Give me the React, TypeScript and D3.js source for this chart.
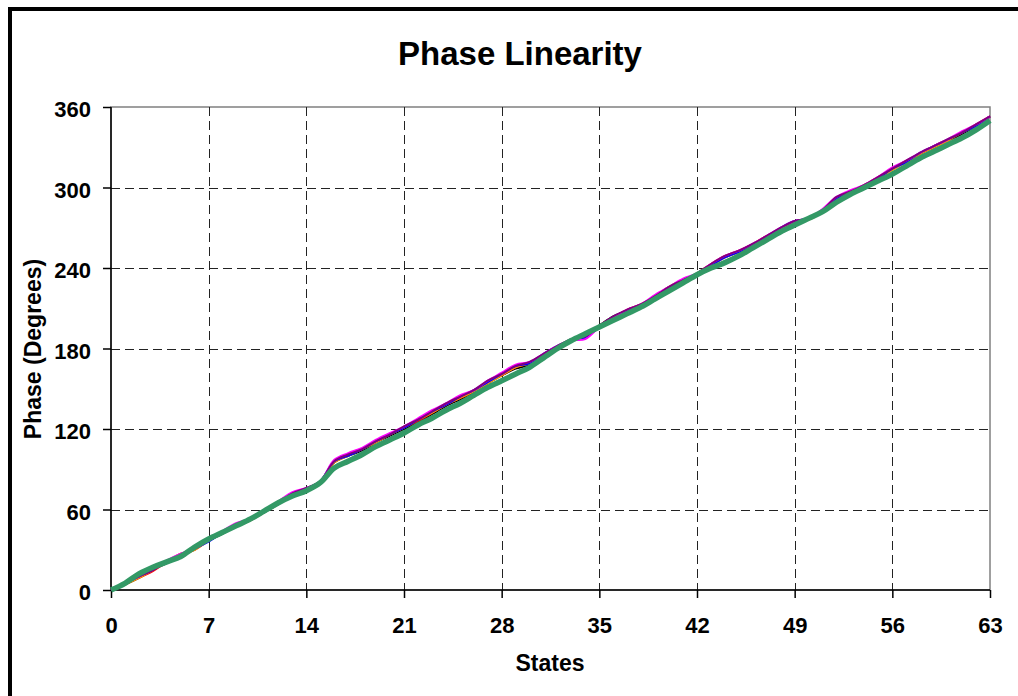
import React, { useEffect, useRef } from 'react';
import * as d3 from 'd3';

// phase readings (degrees) for each state 0..63
const states = d3.range(0, 64);
const blackSeries = [0,4,9,15,20,25,31,37,42,48,53,58,64,71,75,81,95,100,104,110,115,120,125,131,137,142,147,154,160,165,168,175,181,187,190,197,204,208,212,219,226,231,235,242,248,252,257,263,269,274,277,283,292,297,301,307,314,319,325,330,335,340,346,353];
const redSeries = [0,5,9,14,21,27,30,37,43,49,52,59,66,72,75,80,96,101,105,111,116,121,126,132,138,143,148,155,160,166,169,175,181,186,189,197,203,209,213,219,225,231,236,243,249,253,258,264,269,274,276,283,292,297,302,308,314,320,325,331,336,341,347,353];
const blueSeries = [0,5,10,15,21,26,31,36,43,49,53,58,65,71,75,81,96,100,105,111,116,121,127,133,138,144,149,155,161,167,169,176,182,186,188,196,203,208,212,218,225,230,235,242,248,252,258,263,270,275,277,282,292,296,301,307,314,319,326,331,336,341,346,353];
const magentaSeries = [0,5,10,16,22,27,31,37,44,50,53,59,66,73,76,81,97,102,106,112,117,122,128,134,139,145,149,156,162,168,170,176,182,186,187,196,203,209,213,220,226,232,236,243,249,253,258,264,270,275,277,284,293,298,302,308,315,320,326,331,336,342,347,353];
const orangeSeries = [0,4,9,15,21,26,30,37,43,48,52,58,65,72,75,80,95,100,105,110,116,121,127,132,138,143,148,154,160,166,169,175,181,186,189,196,203,208,212,219,226,231,236,242,248,252,258,263,269,274,276,282,292,297,301,307,313,319,325,330,335,341,346,353];
const purpleSeries = [0,5,10,15,21,26,31,37,43,49,53,59,65,72,76,81,96,101,105,111,116,122,127,133,139,144,149,156,161,167,170,176,182,187,189,197,204,209,213,219,226,231,236,243,249,253,258,264,270,275,277,283,293,297,302,308,314,320,326,331,336,341,347,353];
const greenSeries = [0,5,12,17,21,25,32,38,43,48,53,59,65,70,74,80,91,96,101,107,112,117,123,128,134,139,145,151,156,161,166,173,180,186,191,196,201,206,211,217,223,229,235,240,244,249,255,261,267,272,277,282,289,295,300,305,310,316,322,327,332,337,343,350];

const xTicks = [0, 7, 14, 21, 28, 35, 42, 49, 56, 63];
const yTicks = [0, 60, 120, 180, 240, 300, 360];

const thinSeries = [
  { values: blackSeries, color: '#000000' },
  { values: redSeries, color: '#FF0000' },
  { values: orangeSeries, color: '#FF9900' },
  { values: blueSeries, color: '#0000FF' },
  { values: magentaSeries, color: '#FF00FF' },
  { values: purpleSeries, color: '#800080' },
];

const W = 1018;
const H = 696;
const margin = { left: 111, right: 990, top: 107, bottom: 590 };
const FONT = 'Liberation Sans, Arial, sans-serif';

const App: React.FC = () => {
  const ref = useRef<SVGSVGElement | null>(null);

  useEffect(() => {
    if (!ref.current) return;
    const svg = d3.select(ref.current);
    svg.selectAll('*').remove();

    const x = d3.scaleLinear().domain([0, 63]).range([margin.left, margin.right]);
    const y = d3.scaleLinear().domain([0, 360]).range([margin.bottom, margin.top]);

    // outer frame
    svg.append('rect')
      .attr('x', 10).attr('y', 9)
      .attr('width', 1200).attr('height', 900)
      .attr('fill', 'white')
      .attr('stroke', 'black').attr('stroke-width', 4);

    // plot area border
    svg.append('rect')
      .attr('x', margin.left).attr('y', margin.top)
      .attr('width', margin.right - margin.left)
      .attr('height', margin.bottom - margin.top)
      .attr('fill', 'white')
      .attr('stroke', '#808080').attr('stroke-width', 1.5);

    // gridlines
    svg.append('g').selectAll('line')
      .data(yTicks.filter(d => d > 0 && d < 360))
      .enter().append('line')
      .attr('x1', margin.left).attr('x2', margin.right)
      .attr('y1', d => Math.round(y(d)) + 0.5).attr('y2', d => Math.round(y(d)) + 0.5)
      .attr('stroke', '#222').attr('stroke-dasharray', '9,5');

    svg.append('g').selectAll('line')
      .data(xTicks.filter(d => d > 0 && d < 63))
      .enter().append('line')
      .attr('x1', d => Math.round(x(d)) + 0.5).attr('x2', d => Math.round(x(d)) + 0.5)
      .attr('y1', margin.top).attr('y2', margin.bottom)
      .attr('stroke', '#222').attr('stroke-dasharray', '9,5');

    // axes
    const yAxis = svg.append('g')
      .attr('transform', `translate(${margin.left},0)`)
      .call(d3.axisLeft(y).tickValues(yTicks).tickSize(8).tickPadding(12));
    const xAxis = svg.append('g')
      .attr('transform', `translate(0,${margin.bottom})`)
      .call(d3.axisBottom(x).tickValues(xTicks).tickSize(8).tickPadding(19));

    [yAxis, xAxis].forEach(g => {
      g.select('.domain').attr('stroke', 'black').attr('stroke-width', 1.5);
      g.selectAll('.tick line').attr('stroke', 'black').attr('stroke-width', 1.5);
      g.selectAll('.tick text')
        .attr('fill', 'black')
        .style('font-family', FONT)
        .style('font-weight', 'bold')
        .style('font-size', '22px');
    });
    yAxis.selectAll('.tick text').attr('dy', '0.45em');
    yAxis.select('.domain').attr('d', `M0,${margin.bottom}V${margin.top}`);
    xAxis.select('.domain').attr('d', `M${margin.left},0H${margin.right}`);

    // series
    const line = d3.line<number>()
      .x((_, i) => x(states[i]))
      .y(d => y(d))
      .curve(d3.curveCatmullRom.alpha(0.5));

    thinSeries.forEach(s => {
      svg.append('path')
        .datum(s.values)
        .attr('d', line)
        .attr('fill', 'none')
        .attr('stroke', s.color)
        .attr('stroke-width', 2);
    });

    svg.append('path')
      .datum(greenSeries)
      .attr('d', line)
      .attr('fill', 'none')
      .attr('stroke', '#339966')
      .attr('stroke-width', 5.5);

    // titles
    svg.append('text')
      .attr('x', 520).attr('y', 65)
      .attr('text-anchor', 'middle')
      .style('font-family', FONT).style('font-weight', 'bold').style('font-size', '33px')
      .text('Phase Linearity');

    svg.append('text')
      .attr('x', 550).attr('y', 671)
      .attr('text-anchor', 'middle')
      .style('font-family', FONT).style('font-weight', 'bold').style('font-size', '23px')
      .text('States');

    svg.append('text')
      .attr('transform', `translate(41,349) rotate(-90)`)
      .attr('text-anchor', 'middle')
      .style('font-family', FONT).style('font-weight', 'bold').style('font-size', '23px')
      .text('Phase (Degrees)');
  }, []);

  return (
    <svg
      ref={ref}
      width={W}
      height={H}
      style={{ position: 'absolute', left: 0, top: 0, background: 'white' }}
    />
  );
};

export default App;
